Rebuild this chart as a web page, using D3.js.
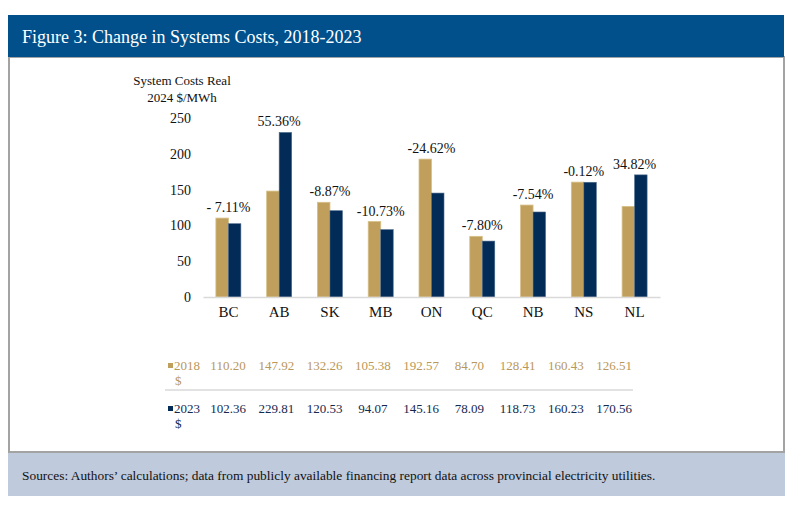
<!DOCTYPE html>
<html>
<head>
<meta charset="utf-8">
<script src="https://cdn.jsdelivr.net/npm/d3@7"></script>
<style>
  body { margin: 0; background: #fff; }
  svg { display: block; font-family: "Liberation Serif", "DejaVu Serif", serif; }
</style>
</head>
<body>
<script>
var provinces = ["BC", "AB", "SK", "MB", "ON", "QC", "NB", "NS", "NL"];
var costs2018 = [110.20, 147.92, 132.26, 105.38, 192.57, 84.70, 128.41, 160.43, 126.51];
var costs2023 = [102.36, 229.81, 120.53, 94.07, 145.16, 78.09, 118.73, 160.23, 170.56];
var changeLabels = ["- 7.11%", "55.36%", "-8.87%", "-10.73%", "-24.62%", "-7.80%", "-7.54%", "-0.12%", "34.82%"];
var yTicks = [0, 50, 100, 150, 200, 250];
var seriesNames = ["2018", "2023"];

var w = 800;
var h = 515;
var gold = "#bf9f5b";
var navy = "#022b57";
var goldText = "#b8975a";
var navyText = "#15294f";

var svg = d3.select("body")
    .append("svg")
    .attr("width", w)
    .attr("height", h);

// frame
svg.append("rect")
    .attr("x", 9).attr("y", 57).attr("width", 775).attr("height", 395)
    .attr("fill", "#fff").attr("stroke", "#a3a3a3").attr("stroke-width", 2);
svg.append("rect")
    .attr("x", 8).attr("y", 15).attr("width", 776).attr("height", 42)
    .attr("fill", "#02508b");
svg.append("text")
    .attr("x", 22).attr("y", 43)
    .attr("fill", "#fff")
    .attr("font-size", 18)
    .text("Figure 3: Change in Systems Costs, 2018-2023");

svg.append("rect")
    .attr("x", 8).attr("y", 453).attr("width", 777).attr("height", 43)
    .attr("fill", "#bfcadc");
svg.append("text")
    .attr("x", 22).attr("y", 480)
    .attr("fill", "#111")
    .attr("font-size", 13.4)
    .text("Sources: Authors\u2019 calculations; data from publicly available financing report data across provincial electricity utilities.");

// scales
var x = d3.scaleBand()
    .domain(provinces)
    .range([203, 660])
    .paddingInner(0.508)
    .paddingOuter(0.254);

var x1 = d3.scaleBand()
    .domain(seriesNames)
    .range([0, x.bandwidth()]);

var y = d3.scaleLinear()
    .domain([0, 250])
    .range([297, 118]);

// y axis
var yAxis = d3.axisLeft(y).tickValues(yTicks).tickSize(0).tickPadding(0);
var gy = svg.append("g")
    .attr("transform", "translate(191,0)")
    .call(yAxis);
gy.select(".domain").remove();
gy.selectAll("text")
    .attr("font-family", "Liberation Serif, serif")
    .attr("font-size", 14)
    .attr("fill", "#111");

svg.append("text")
    .attr("x", 182).attr("y", 85)
    .attr("text-anchor", "middle")
    .attr("font-size", 13)
    .attr("fill", "#111")
    .text("System Costs Real");
svg.append("text")
    .attr("x", 182).attr("y", 102)
    .attr("text-anchor", "middle")
    .attr("font-size", 13)
    .attr("fill", "#111")
    .text("2024 $/MWh");

// bars
var groups = svg.append("g").selectAll("g")
    .data(provinces)
    .enter()
    .append("g")
    .attr("transform", function(d) { return "translate(" + x(d) + ",0)"; });

groups.append("rect")
    .attr("x", x1("2018"))
    .attr("y", function(d, i) { return y(costs2018[i]); })
    .attr("width", x1.bandwidth())
    .attr("height", function(d, i) { return y(0) - y(costs2018[i]); })
    .attr("fill", gold)
    .attr("stroke", "#d6bf86")
    .attr("stroke-width", 0.8);

groups.append("rect")
    .attr("x", x1("2023"))
    .attr("y", function(d, i) { return y(costs2023[i]); })
    .attr("width", x1.bandwidth())
    .attr("height", function(d, i) { return y(0) - y(costs2023[i]); })
    .attr("fill", navy)
    .attr("stroke", "#4d6a8c")
    .attr("stroke-width", 0.6);

groups.append("text")
    .attr("x", x.bandwidth() / 2)
    .attr("y", function(d, i) { return y(Math.max(costs2018[i], costs2023[i])) - 6; })
    .attr("text-anchor", "middle")
    .attr("font-size", 14)
    .attr("fill", "#111")
    .text(function(d, i) { return changeLabels[i]; });

// x axis
var xAxis = d3.axisBottom(x).tickSize(0).tickPadding(9);
var gx = svg.append("g")
    .attr("transform", "translate(0," + y(0) + ")")
    .call(xAxis);
gx.select(".domain").attr("stroke", "#d9d9d9").attr("stroke-width", 1.5);
gx.selectAll("text")
    .attr("font-family", "Liberation Serif, serif")
    .attr("font-size", 15)
    .attr("fill", "#111");

// data table
var xt = d3.scalePoint()
    .domain(provinces)
    .range([228, 614]);

var rows = [
  { name: "2018", values: costs2018, color: goldText, sq: gold, y: 370 },
  { name: "2023", values: costs2023, color: navyText, sq: navy, y: 413 }
];

rows.forEach(function(r) {
  svg.append("rect")
      .attr("x", 168).attr("y", r.y - 7).attr("width", 5).attr("height", 5)
      .attr("fill", r.sq);
  svg.append("text")
      .attr("x", 174).attr("y", r.y)
      .attr("font-size", 13)
      .attr("fill", r.color)
      .text(r.name);
  svg.append("text")
      .attr("x", 175).attr("y", r.y + 15)
      .attr("font-size", 13)
      .attr("fill", r.color)
      .text("$");
  svg.append("g").selectAll("text")
      .data(r.values)
      .enter()
      .append("text")
      .attr("x", function(d, i) { return xt(provinces[i]); })
      .attr("y", r.y)
      .attr("text-anchor", "middle")
      .attr("font-size", 13)
      .attr("fill", r.color)
      .text(function(d) { return d.toFixed(2); });
});

svg.append("line")
    .attr("x1", 165).attr("x2", 633)
    .attr("y1", 390).attr("y2", 390)
    .attr("stroke", "#d9d9d9").attr("stroke-width", 1.5);
</script>
</body>
</html>
